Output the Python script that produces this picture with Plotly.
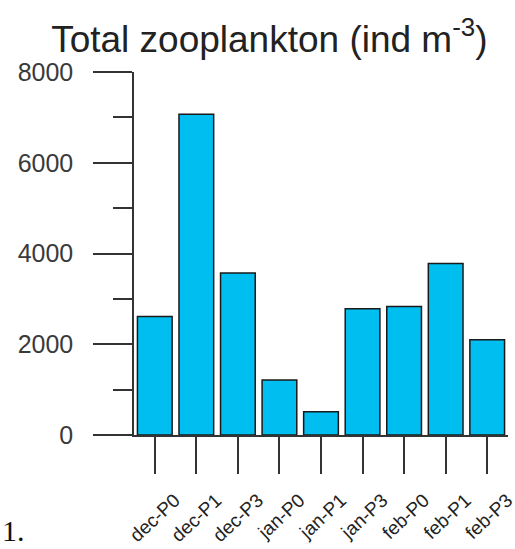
import plotly.graph_objects as go

categories = ["dec-P0", "dec-P1", "dec-P3", "jan-P0", "jan-P1", "jan-P3", "feb-P0", "feb-P1", "feb-P3"]
values = [2610, 7070, 3570, 1210, 510, 2780, 2830, 3780, 2100]
y_ticks = [0, 2000, 4000, 6000, 8000]

fig = go.Figure(go.Bar(
    x=categories, y=values,
    marker=dict(color="#00BEF0", line=dict(color="#1a1a1a", width=1.5)),
))

fig.update_layout(
    width=515, height=549,
    margin=dict(l=134, r=7, t=72, b=114, autoexpand=False),
    paper_bgcolor="white", plot_bgcolor="white",
    bargap=0.165,
    showlegend=False,
    font=dict(family="Liberation Sans, Arial, sans-serif", color="#333333"),
    title=dict(text="Total zooplankton (ind m<sup>-3</sup>)", x=0.523, xanchor="center",
               y=0.929, yanchor="middle", automargin=False,
               font=dict(size=37, color="#222222", family="Liberation Sans, Arial, sans-serif")),
)

fig.update_yaxes(
    range=[0, 8000], tickvals=y_ticks, ticktext=[str(v) for v in y_ticks],
    showgrid=False, zeroline=False, automargin=False,
    showline=True, linecolor="#333333", linewidth=1.5,
    ticks="outside", ticklen=39, tickwidth=1.5, tickcolor="#333333",
    tickfont=dict(size=25, color="#3a3a3a"), ticklabelstandoff=15,
    minor=dict(dtick=1000, tick0=0, ticks="outside", ticklen=19, tickwidth=1.5, tickcolor="#333333"),
)

fig.update_xaxes(
    range=[-0.5, 8.5],
    showgrid=False, zeroline=False, automargin=False,
    showline=True, linecolor="#333333", linewidth=1.5,
    ticks="outside", ticklen=37, tickwidth=1.5, tickcolor="#333333",
    tickangle=-43, tickfont=dict(size=19, color="#222222"),
    ticklabelshift=20, ticklabelstandoff=8,
)

fig.add_annotation(text="1.", xref="paper", yref="paper", x=-134/374, y=-114/363,
                   xanchor="left", yanchor="bottom", showarrow=False, xshift=0, yshift=0,
                   font=dict(size=30, color="#111111", family="Liberation Serif, Times New Roman, serif"))

fig.write_html("out.html", config={"displayModeBar": False},
               post_script="document.body.style.margin='0';document.body.style.overflow='hidden';")
